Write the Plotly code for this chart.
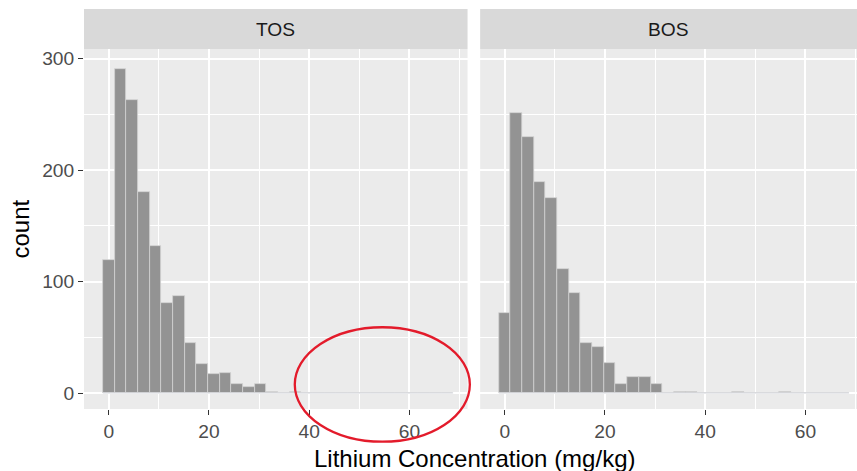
import plotly.graph_objects as go

# ---- data ----
panels = ["TOS", "BOS"]
bin_centers = [0.00, 2.33, 4.66, 6.99, 9.32, 11.65, 13.98, 16.31, 18.64, 20.97,
               23.30, 25.63, 27.96, 30.29, 32.62, 34.95, 37.28, 39.61, 41.94, 44.27,
               46.60, 48.93, 51.26, 53.59, 55.92, 58.25, 60.58, 62.91, 65.24, 67.57]
bin_width = 2.33
tos_counts = [119, 291, 263, 180, 132, 81, 87, 45, 26, 17,
              18, 8, 5, 8, 1, 0, 1, 0, 0, 0,
              0, 0, 0, 0, 0, 0, 0, 0, 0, 0]
bos_counts = [72, 251, 230, 189, 175, 111, 90, 45, 41, 27,
              8, 14, 14, 8, 0, 1, 1, 0, 0, 0,
              1, 0, 0, 0, 1, 0, 0, 0, 0, 0]
x_ticks = [0, 20, 40, 60]
y_ticks = [0, 100, 200, 300]
x_title = "Lithium Concentration (mg/kg)"
y_title = "count"

# ---- layout geometry (pixels) ----
W, H = 857, 471
L, R, T, B = 84.3, 0, 9.3, 62
PW, PH = W - L - R, H - T - B


def px(x):
    return (x - L) / PW


def py(y):
    return (H - B - y) / PH


left_dom = [0, px(467.7)]
right_dom = [px(480.3), 1]
panel_top = py(49.3)

bar_fill = "#939393"
bar_line = "#d2d2d2"

fig = go.Figure()
for i, (name, counts) in enumerate(zip(panels, [tos_counts, bos_counts])):
    xa = "x" if i == 0 else "x2"
    ya = "y" if i == 0 else "y2"
    # outline of empty bins along the baseline
    fig.add_trace(go.Scatter(
        x=[bin_centers[0] - bin_width / 2, bin_centers[-1] + bin_width / 2], y=[0, 0],
        mode="lines", line=dict(color="#dcdee4", width=1), xaxis=xa, yaxis=ya,
        showlegend=False, hoverinfo="skip"))
    fig.add_trace(go.Bar(
        x=bin_centers, y=counts, width=bin_width, xaxis=xa, yaxis=ya,
        marker=dict(color=bar_fill, line=dict(color=bar_line, width=0.8)),
        showlegend=False, name=name))

font_fam = "Liberation Sans, Arial, sans-serif"
axis_common = dict(
    showgrid=True, gridcolor="white", gridwidth=2,
    zeroline=False, showline=False,
    ticks="outside", ticklen=5, tickwidth=1.1, tickcolor="#333333",
    tickfont=dict(family=font_fam, size=19.2, color="#4d4d4d"),
)


def minor(dtick, tick0):
    return dict(dtick=dtick, tick0=tick0, showgrid=True, gridcolor="white", gridwidth=1)


fig.update_layout(
    width=W, height=H,
    margin=dict(l=L, r=R, t=T, b=B, pad=0, autoexpand=False),
    paper_bgcolor="white", plot_bgcolor="#ebebeb",
    bargap=0,
    font=dict(family=font_fam),
    xaxis=dict(domain=left_dom, range=[-4.93, 71.6], tickvals=x_ticks,
               anchor="y", minor=minor(10, 10), **axis_common),
    xaxis2=dict(domain=right_dom, range=[-4.9, 70.3], tickvals=x_ticks,
                anchor="y2", minor=minor(10, 10), **axis_common),
    yaxis=dict(domain=[0, panel_top], range=[-14.3, 308.5], tickvals=y_ticks,
               anchor="x", minor=minor(100, 50), **axis_common),
    yaxis2=dict(domain=[0, panel_top], range=[-14.3, 308.5], tickvals=y_ticks,
                anchor="x2", matches="y", showticklabels=False,
                minor=minor(100, 50), **{**axis_common, "ticks": ""}),
)

shapes = []
annotations = []
for dom, name in zip([left_dom, right_dom], panels):
    shapes.append(dict(type="rect", xref="paper", yref="paper",
                       x0=dom[0], x1=dom[1], y0=panel_top, y1=1,
                       fillcolor="#d9d9d9", line=dict(width=0), layer="below"))
    annotations.append(dict(text=name, xref="paper", yref="paper",
                            x=(dom[0] + dom[1]) / 2, y=(panel_top + 1) / 2,
                            xanchor="center", yanchor="middle", showarrow=False,
                            font=dict(family=font_fam, size=19.2, color="#1a1a1a")))

# red highlight ellipse
shapes.append(dict(type="circle", xref="paper", yref="paper",
                   x0=px(295), x1=px(470), y0=py(441.7), y1=py(327.3),
                   line=dict(color="#e31b2b", width=2.3), layer="above"))

annotations.append(dict(text=x_title, xref="paper", yref="paper",
                        x=px(474.2), y=py(458), xanchor="center", yanchor="middle",
                        showarrow=False, font=dict(family=font_fam, size=24, color="black")))
annotations.append(dict(text=y_title, xref="paper", yref="paper",
                        x=px(21), y=py(229), xanchor="center", yanchor="middle",
                        textangle=-90, showarrow=False,
                        font=dict(family=font_fam, size=24, color="black")))

fig.update_layout(shapes=shapes, annotations=annotations)

fig.write_html(
    "out.html",
    config={"displayModeBar": False},
    post_script="document.body.style.margin='0';document.body.style.padding='0';"
                "document.body.style.overflow='hidden';",
)
